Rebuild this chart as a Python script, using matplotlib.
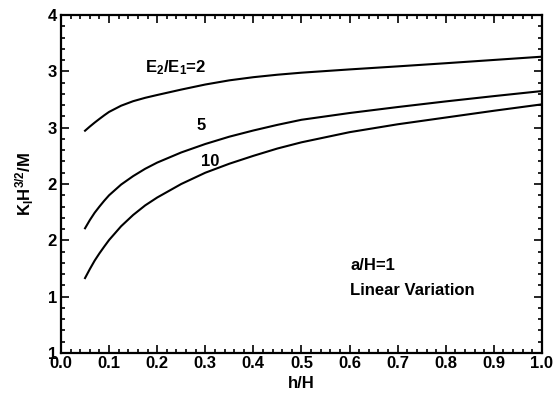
import matplotlib
matplotlib.use("Agg")
import matplotlib.pyplot as plt
from matplotlib.ticker import MultipleLocator

plt.rcParams["font.family"] = ["Liberation Sans", "DejaVu Sans"]
plt.rcParams["font.weight"] = "bold"
plt.rcParams["mathtext.fontset"] = "custom"
plt.rcParams["mathtext.rm"] = "Liberation Sans:bold"
plt.rcParams["mathtext.bf"] = "Liberation Sans:bold"
plt.rcParams["mathtext.it"] = "Liberation Sans:bold"

# Normalised stress intensity factor vs. relative layer depth
h_ratio = [0.05, 0.06, 0.07, 0.08, 0.09, 0.10, 0.125, 0.15, 0.175, 0.20,
           0.25, 0.30, 0.35, 0.40, 0.45, 0.50, 0.60, 0.70, 0.80, 0.90, 1.00]
k_e2 = [2.973, 3.010, 3.045, 3.078, 3.110, 3.140, 3.195, 3.235, 3.265,
        3.290, 3.338, 3.383, 3.420, 3.448, 3.470, 3.488, 3.517, 3.544,
        3.572, 3.601, 3.630]
k_e5 = [2.107, 2.180, 2.245, 2.300, 2.352, 2.400, 2.495, 2.570, 2.635,
        2.690, 2.780, 2.855, 2.920, 2.975, 3.025, 3.070, 3.130, 3.183,
        3.233, 3.280, 3.325]
k_e10 = [1.665, 1.745, 1.820, 1.885, 1.945, 2.003, 2.125, 2.225, 2.310,
         2.380, 2.500, 2.600, 2.680, 2.750, 2.815, 2.870, 2.960, 3.030,
         3.090, 3.150, 3.207]

x_ticks = [0.0, 0.1, 0.2, 0.3, 0.4, 0.5, 0.6, 0.7, 0.8, 0.9, 1.0]
x_tick_labels = ["0.0", "0.1", "0.2", "0.3", "0.4", "0.5",
                 "0.6", "0.7", "0.8", "0.9", "1.0"]
y_ticks = [1.0, 1.5, 2.0, 2.5, 3.0, 3.5, 4.0]
y_tick_labels = ["1", "1", "2", "2", "3", "3", "4"]

FS = 12

fig = plt.figure(figsize=(5.56, 4.0), dpi=100)
ax = fig.add_axes([0.1097, 0.1175, 0.865, 0.845])

for ys in (k_e2, k_e5, k_e10):
    ax.plot(h_ratio, ys, color="black", lw=1.5)

ax.set_xlim(0, 1)
ax.set_ylim(1, 4)
ax.set_xticks(x_ticks)
ax.set_xticklabels(x_tick_labels)
ax.set_yticks(y_ticks)
ax.set_yticklabels(y_tick_labels)
ax.xaxis.set_minor_locator(MultipleLocator(0.02))
ax.yaxis.set_minor_locator(MultipleLocator(0.1))
ax.tick_params(which="both", direction="in", top=True, right=True,
               labelsize=FS, width=1.2)
ax.tick_params(axis="x", pad=2)
ax.tick_params(axis="y", pad=3)
ax.tick_params(which="major", length=6)
ax.tick_params(which="minor", length=3)
for s in ax.spines.values():
    s.set_linewidth(1.6)

ax.set_xlabel("h/H", fontsize=FS, fontweight="bold", labelpad=4)
ax.set_ylabel(r"K$_\mathrm{I}$H$^\mathrm{3/2}$/M", fontsize=FS,
              fontweight="bold", labelpad=8)

ax.text(0.175, 3.53, r"E$_\mathrm{2}$/E$_\mathrm{1}$=2", fontsize=FS,
        fontweight="bold", va="center", ha="left")
ax.text(0.292, 3.015, "5", fontsize=FS, fontweight="bold",
        va="center", ha="center")
ax.text(0.31, 2.70, "10", fontsize=FS, fontweight="bold",
        va="center", ha="center")
ax.text(0.601, 1.781, "a/H=1", fontsize=FS, fontweight="bold",
        va="center", ha="left")
ax.text(0.601, 1.559, "Linear Variation", fontsize=FS, fontweight="bold",
        va="center", ha="left")

fig.savefig("out.png", dpi=100)
